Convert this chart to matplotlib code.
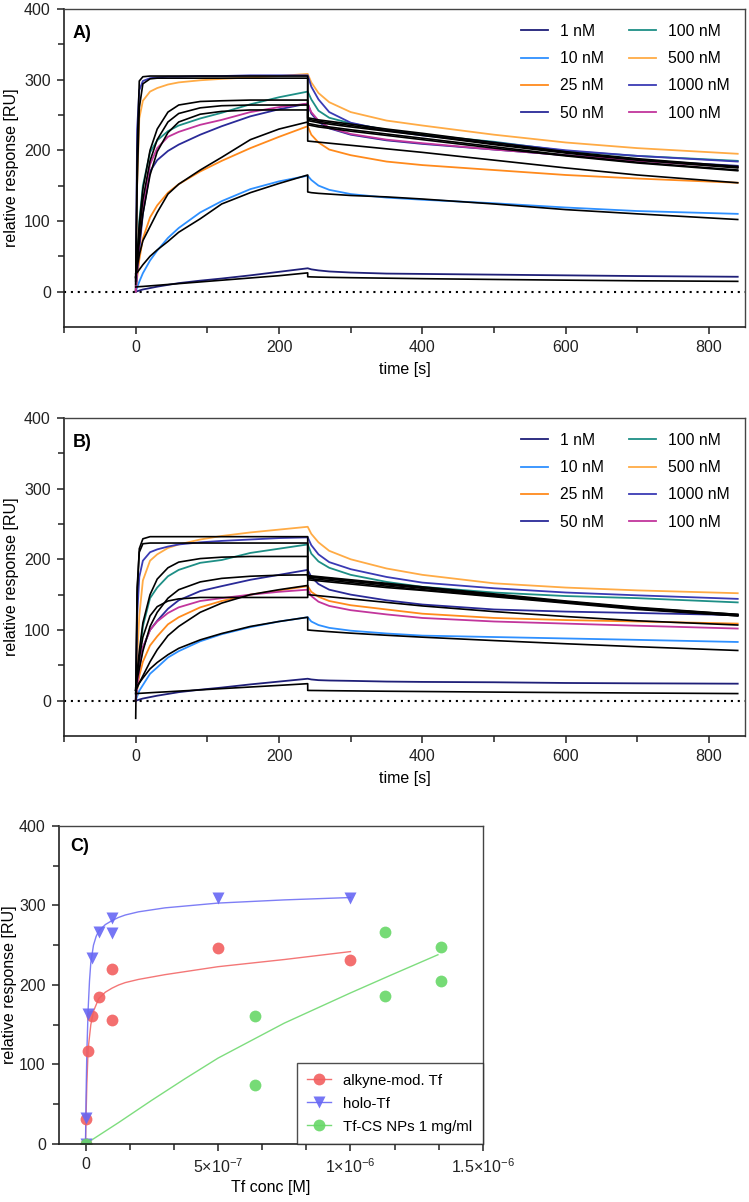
import matplotlib
matplotlib.use("Agg")
import matplotlib.pyplot as plt
from matplotlib.ticker import MultipleLocator, AutoMinorLocator, FixedLocator

plt.rcParams['font.family'] = ['Liberation Sans', 'DejaVu Sans']
plt.rcParams['mathtext.fontset'] = 'custom'
plt.rcParams['mathtext.rm'] = 'Liberation Sans'
plt.rcParams['mathtext.it'] = 'Liberation Sans:italic'
plt.rcParams['font.size'] = 11.5

# sampling times of the sensorgrams [s]
t_assoc = [0, 2, 5, 10, 20, 30, 45, 60, 90, 120, 160, 200, 240]
t_diss = [240, 245, 255, 270, 300, 350, 400, 500, 600, 700, 840]

labels = ['1 nM', '10 nM', '25 nM', '50 nM', '100 nM', '500 nM', '1000 nM', '100 nM']
colors = ['#1f1f78', '#2e90ff', '#ff8a1c', '#2a2a98', '#1e8f86', '#ffab45', '#3a3ab4', '#c2359c']

# panel A - measured responses
a_assoc = [
    [0, 0.5, 1.5, 3, 5, 7, 9.5, 12, 15.5, 18.5, 23, 28, 33],
    [0, 6, 14, 26, 44, 58, 76, 90, 112, 128, 145, 156, 164],
    [0, 20, 45, 75, 105, 122, 140, 152, 170, 185, 203, 219, 234],
    [0, 25, 60, 110, 170, 186, 199, 208, 222, 234, 248, 258, 266],
    [0, 45, 100, 150, 197, 214, 227, 235, 245, 253, 265, 275, 283],
    [0, 150, 245, 270, 283, 288, 293, 296, 299, 301, 303, 305, 308],
    [0, 230, 285, 298, 302, 303, 304, 304, 305, 305, 306, 306, 306],
    [0, 30, 70, 120, 180, 203, 219, 226, 236, 243, 254, 261, 266],
]
a_diss = [
    [33, 31.5, 30, 28.5, 27, 25.5, 25, 24, 23, 22, 21],
    [164, 158, 150, 144, 138, 133, 130, 125, 119, 114, 110],
    [234, 222, 211, 201, 193, 184, 179, 172, 165, 160, 154],
    [266, 252, 240, 231, 222, 214, 209, 201, 193, 186, 178],
    [283, 272, 256, 246, 238, 229, 222, 212, 199, 192, 185],
    [308, 296, 281, 268, 254, 242, 235, 222, 211, 203, 195],
    [306, 290, 272, 254, 239, 228, 221, 211, 200, 192, 184],
    [266, 254, 242, 232, 223, 215, 210, 201, 193, 185, 176],
]
# panel A - fitted curves
a_fit_assoc = [
    [6.5, 6.7, 7, 7.3, 8.1, 8.9, 10.1, 11.3, 13.7, 16.1, 19.3, 22.5, 26.5],
    [25, 27, 31, 38, 50, 59, 71, 84, 103, 124, 140, 153, 165],
    [22, 35, 52, 72, 92, 112, 138, 152, 172, 190, 215, 230, 240],
    [20, 40, 70, 110, 165, 198, 225, 240, 251, 255, 257, 257, 257],
    [20, 50, 95, 145, 200, 230, 254, 264, 269, 270, 271, 271, 271],
    [10, 200, 298, 304, 305, 305, 305, 305, 305, 305, 305, 305, 305],
    [15, 150, 260, 294, 301, 302, 302, 302, 302, 302, 302, 302, 302],
    [20, 45, 85, 130, 185, 215, 240, 252, 260, 263, 264, 264, 264],
]
a_fit_diss = [
    [21, 20.8, 20.5, 20.2, 19.7, 19, 18.3, 17.2, 16.2, 15.3, 14.5],
    [141, 140, 139, 138, 136, 134, 131, 124, 116, 110, 102],
    [213, 212.5, 211.5, 210, 207, 202, 197, 186, 175, 165, 154],
    [236, 235, 233, 231, 227, 221, 215, 203, 192, 182, 171],
    [242, 241, 239, 237, 233, 227, 221, 208, 196, 186, 175],
    [246, 245, 243, 241, 237, 230, 224, 211, 198, 188, 177],
    [244, 243, 241, 239, 235, 228, 222, 209, 197, 187, 176],
    [238, 237, 235, 233, 229, 223, 217, 205, 193, 183, 172],
]

# panel B - measured responses
b_assoc = [
    [0, 0.5, 1.5, 3, 5, 7, 9.5, 12, 15.5, 18.5, 23, 27, 31],
    [0, 6, 14, 22, 38, 47, 61, 70, 84, 94, 104, 112, 118],
    [0, 15, 35, 55, 78, 91, 108, 118, 132, 141, 150, 156, 162],
    [0, 25, 50, 75, 100, 113, 130, 142, 155, 162, 171, 178, 185],
    [0, 30, 60, 105, 145, 160, 176, 185, 195, 199, 209, 215, 221],
    [0, 60, 120, 170, 198, 207, 216, 221, 228, 233, 238, 242, 246],
    [0, 120, 175, 198, 210, 214, 218, 221, 224, 226, 228, 230, 231],
    [0, 20, 45, 75, 100, 112, 124, 132, 141, 145, 150, 154, 157],
]
b_diss = [
    [31, 30, 29, 28.5, 28, 27, 26.5, 26, 25, 24.5, 24],
    [118, 112, 107, 103, 99, 95, 92, 90, 88, 86, 83],
    [162, 154, 147, 141, 135, 129, 123, 117, 114, 112, 109],
    [185, 175, 165, 157, 150, 142, 136, 129, 126, 124, 121],
    [221, 208, 197, 188, 178, 168, 161, 153, 148, 145, 139],
    [246, 236, 224, 212, 200, 187, 178, 166, 160, 156, 152],
    [231, 220, 207, 196, 186, 175, 167, 159, 153, 149, 144],
    [157, 148, 140, 134, 128, 122, 117, 112, 109, 106, 102],
]
# panel B - fitted curves
b_fit_assoc = [
    [10, 10.1, 10.3, 10.6, 11.2, 11.8, 12.6, 13.5, 15.2, 17, 19.3, 21.6, 24],
    [18, 21, 25, 32, 45, 54, 65, 74, 86, 95, 105, 112, 118],
    [15, 18, 25, 35, 55, 72, 92, 105, 125, 138, 150, 157, 163],
    [15, 30, 45, 70, 105, 125, 145, 157, 168, 173, 176, 177.5, 178],
    [15, 40, 70, 110, 150, 172, 188, 196, 201, 203, 204, 204, 204],
    [-25, 150, 215, 229, 232, 232, 232, 232, 232, 232, 232, 232, 232],
    [10, 160, 210, 222, 223, 223, 223, 223, 223, 223, 223, 223, 223],
    [15, 35, 60, 90, 120, 133, 141, 144, 146, 146, 146, 146, 146],
]
b_fit_diss = [
    [14.5, 14.4, 14.3, 14.1, 13.8, 13.3, 12.9, 12.1, 11.4, 10.8, 10],
    [100, 99.5, 98.7, 97.6, 95.5, 92.5, 89.8, 85, 80.5, 76.3, 71],
    [150, 149.5, 148.5, 147, 144, 139, 134, 126, 119, 113, 107],
    [173, 172.5, 171.5, 170, 167, 162, 157, 148, 139, 130, 120],
    [175, 174.5, 173.5, 172, 169, 164, 159, 149, 140, 131, 121],
    [177, 176.5, 175.5, 174, 171, 166, 161, 151, 141, 132, 122],
    [176, 175.5, 174.5, 173, 170, 165, 160, 150, 140, 131, 122],
    [171, 170.5, 169.5, 168, 165, 160, 156, 147, 138, 129, 120],
]

# panel C - steady-state binding
c_alk_x = [0, 0, 1e-8, 2.5e-8, 5e-8, 1e-7, 1e-7, 5e-7, 1e-6]
c_alk_y = [0, 31, 117, 161, 185, 220, 156, 246, 231]
c_holo_x = [0, 0, 1e-8, 2.5e-8, 5e-8, 1e-7, 1e-7, 5e-7, 1e-6]
c_holo_y = [0, 33, 164, 234, 267, 284, 266, 309, 309]
c_np_x = [0, 6.4e-7, 6.4e-7, 1.13e-6, 1.13e-6, 1.34e-6, 1.34e-6]
c_np_y = [0, 161, 74, 267, 186, 248, 205]

c_alk_fit_x = [0, 2e-9, 5e-9, 1e-8, 2e-8, 3e-8, 5e-8, 7.5e-8, 1e-7, 1.25e-7, 1.5e-7,
               2e-7, 3e-7, 4e-7, 5e-7, 7.5e-7, 1e-6]
c_alk_fit_y = [0, 35, 75, 120, 150, 167, 183, 191, 196, 200, 203, 207, 213, 218, 223, 232, 242]
c_holo_fit_x = [0, 2e-9, 5e-9, 1e-8, 1.5e-8, 2e-8, 3e-8, 4e-8, 5e-8, 7.5e-8, 1e-7, 1.25e-7,
                1.5e-7, 2e-7, 3e-7, 5e-7, 7.5e-7, 1e-6]
c_holo_fit_y = [0, 60, 115, 170, 205, 228, 250, 261, 268, 276, 281, 285, 288, 292, 297,
                303, 307, 310]
c_np_fit_x = [0, 1.25e-7, 2.5e-7, 3.75e-7, 5e-7, 6.25e-7, 7.5e-7, 8.75e-7, 1e-6, 1.15e-6, 1.33e-6]
c_np_fit_y = [0, 27, 55, 82, 108, 130, 152, 171, 190, 212, 238]

c_xticks = [0, 5e-7, 1e-6, 1.5e-6]
c_xticklabels = ['0', '5×10$^{-7}$', '1×10$^{-6}$', '1.5×10$^{-6}$']


def style_axes(ax):
    for side in ['left', 'bottom']:
        ax.spines[side].set_linewidth(1.2)
        ax.spines[side].set_color('#222222')
    for side in ['top', 'right']:
        ax.spines[side].set_linewidth(1.0)
        ax.spines[side].set_color('#444444')
    ax.tick_params(which='both', direction='out', width=1.1, color='#222222',
                   labelsize=11.5, labelcolor='#222222', top=False, right=False)
    ax.tick_params(which='major', length=5, pad=4.5)
    ax.tick_params(which='minor', length=4)


def sensorgram(ax, assoc, diss, fit_assoc, fit_diss, tag):
    t = t_assoc + t_diss
    for i in range(len(labels)):
        ax.plot(t, assoc[i] + diss[i], color=colors[i], lw=1.3, label=labels[i])
    for i in range(len(labels)):
        ax.plot(t, fit_assoc[i] + fit_diss[i], color='black', lw=1.2)
    ax.axhline(0, color='black', lw=1.5, ls=(0, (1, 2.3)))
    ax.set_xlim(-100, 850)
    ax.set_ylim(-50, 400)
    ax.xaxis.set_major_locator(MultipleLocator(200))
    ax.xaxis.set_minor_locator(AutoMinorLocator(2))
    ax.yaxis.set_major_locator(FixedLocator([0, 100, 200, 300, 400]))
    ax.yaxis.set_minor_locator(FixedLocator([50, 150, 250, 350]))
    ax.set_xlabel('time [s]', fontsize=11.5, labelpad=5)
    ax.set_ylabel('relative response [RU]', fontsize=11.5, labelpad=4)
    style_axes(ax)
    ax.text(0.013, 0.948, tag, transform=ax.transAxes, fontsize=13,
            fontweight='bold', va='top', ha='left')
    ax.legend(ncol=2, frameon=False, loc='upper right', fontsize=11.3,
              handlelength=1.7, handletextpad=0.8, columnspacing=1.6,
              labelspacing=0.78, borderaxespad=0.55)


fig = plt.figure(figsize=(7.49, 12.02), dpi=100)

ax_a = fig.add_axes([0.0855, 0.728, 0.909, 0.2646])
sensorgram(ax_a, a_assoc, a_diss, a_fit_assoc, a_fit_diss, 'A)')

ax_b = fig.add_axes([0.0855, 0.3877, 0.909, 0.2646])
sensorgram(ax_b, b_assoc, b_diss, b_fit_assoc, b_fit_diss, 'B)')

ax_c = fig.add_axes([0.0788, 0.04825, 0.566, 0.2646])
red, blue, green = '#f25f5f', '#6767f4', '#67d767'
ax_c.plot(c_alk_fit_x, c_alk_fit_y, color=red, lw=1.0, alpha=0.85)
ax_c.plot(c_holo_fit_x, c_holo_fit_y, color=blue, lw=1.0, alpha=0.85)
ax_c.plot(c_np_fit_x, c_np_fit_y, color=green, lw=1.0, alpha=0.85)
ax_c.plot(c_alk_x, c_alk_y, 'o', color=red, ms=8.5, mec='none', alpha=0.9)
ax_c.plot(c_holo_x, c_holo_y, 'v', color=blue, ms=8.5, mec='none', alpha=0.9)
ax_c.plot(c_np_x, c_np_y, 'o', color=green, ms=8.5, mec='none', alpha=0.9)
# legend proxies (line + marker)
h1, = ax_c.plot([], [], '-o', color=red, ms=8.5, mec='none', lw=1.0, alpha=0.9, label='alkyne-mod. Tf')
h2, = ax_c.plot([], [], '-v', color=blue, ms=8.5, mec='none', lw=1.0, alpha=0.9, label='holo-Tf')
h3, = ax_c.plot([], [], '-o', color=green, ms=8.5, mec='none', lw=1.0, alpha=0.9, label='Tf-CS NPs 1 mg/ml')
leg = ax_c.legend(handles=[h1, h2, h3], loc='lower right', fontsize=10.8,
                  frameon=True, fancybox=False, borderaxespad=0, numpoints=1,
                  handlelength=1.6, handletextpad=0.8, labelspacing=0.6,
                  borderpad=0.7)
leg.get_frame().set_edgecolor('#222222')
leg.get_frame().set_linewidth(1.0)
ax_c.set_xlim(-1e-7, 1.5e-6)
ax_c.set_ylim(0, 400)
ax_c.xaxis.set_major_locator(FixedLocator(c_xticks))
ax_c.set_xticklabels(c_xticklabels)
ax_c.xaxis.set_minor_locator(FixedLocator([1.6667e-7, 3.3333e-7, 6.6667e-7, 8.3333e-7,
                                           1.16667e-6, 1.33333e-6]))
ax_c.yaxis.set_major_locator(MultipleLocator(100))
ax_c.yaxis.set_minor_locator(AutoMinorLocator(2))
ax_c.set_xlabel('Tf conc [M]', fontsize=11.5, labelpad=3)
ax_c.set_ylabel('relative response [RU]', fontsize=11.5, labelpad=1.5)
style_axes(ax_c)
ax_c.text(0.026, 0.962, 'C)', transform=ax_c.transAxes, fontsize=13,
          fontweight='bold', va='top', ha='left')

fig.savefig('out.png', dpi=100)
